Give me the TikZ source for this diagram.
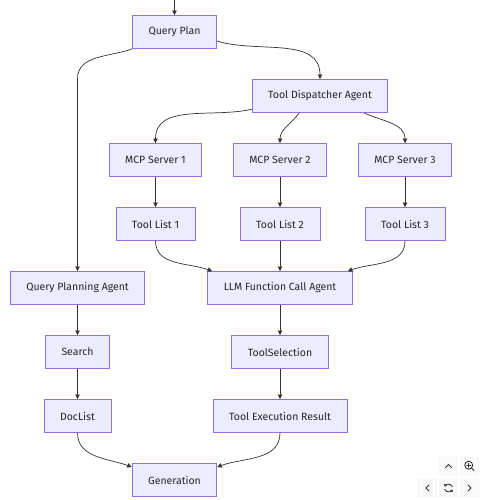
\documentclass[tikz,border=0pt]{standalone}
\usepackage{fontspec}
\setmainfont{Fira Sans}
\usetikzlibrary{arrows.meta,positioning}
\definecolor{boxfill}{HTML}{ECECFF}
\definecolor{boxline}{HTML}{9370DB}
\definecolor{edgeline}{HTML}{333333}

\begin{document}
\begin{tikzpicture}[x=1pt,y=-1pt,
    node distance=30.2pt and 30pt,
    every node/.style={font=\fontsize{10.5}{12}\selectfont},
    box/.style={rectangle,draw=boxline,fill=boxfill,line width=0.8pt,minimum height=33pt,inner xsep=16pt,text=black!85},
    arrow/.style={-{Triangle[length=4.5pt,width=4.5pt]},line width=0.7pt,color=edgeline},
    btn/.style={rectangle,rounded corners=2pt,draw=gray!12,fill=gray!5,minimum width=19pt,minimum height=18pt,inner sep=0pt},
    glyph/.style={line width=0.9pt,black!80,line cap=round,line join=round}
]
\useasboundingbox (0,0) rectangle (486,500);

% Planning
\coordinate (start) at (174.5,0);
\node[box] (qplan) at (174.5,32) {Query Plan};
\node[box] (dispatch) at (320,96) {Tool Dispatcher Agent};

% MCP servers and their tool lists
\foreach \i/\x in {1/155.5,2/280,3/405} {
  \node[box] (mcp\i) at (\x,160) {MCP Server \i};
  \node[box,below=of mcp\i] (tools\i) {Tool List \i};
}

% Function calling branch
\node[box,below=of tools2] (llm) {LLM Function Call Agent};
\node[box,below=of llm] (toolsel) {ToolSelection};
\node[box,below=of toolsel] (toolexec) {Tool Execution Result};

% Retrieval branch
\node[box] (qpagent) at (77.5,288) {Query Planning Agent};
\node[box,below=of qpagent] (search) {Search};
\node[box,below=of search] (doclist) {DocList};

% Output
\node[box] (gen) at (174.5,480) {Generation};

% Connections
\draw[arrow] (start) -- (qplan);
\draw[arrow] (qplan.south west) to[out=200,in=90] (qpagent.north |- dispatch.north) -- (qpagent.north);
\draw[arrow] (qplan.-12) to[out=-17,in=90] (dispatch.north);
\draw[arrow] (dispatch.191) to[out=193,in=90] (mcp1.north);
\draw[arrow] (dispatch.219) to[out=235,in=90] (mcp2.north);
\draw[arrow] (dispatch.-21) to[out=-25,in=90] (mcp3.north);
\foreach \i in {1,2,3} {
  \draw[arrow] (mcp\i) -- (tools\i);
}
\draw[arrow] (tools1.south) to[out=-90,in=160] (llm.166);
\draw[arrow] (tools2) -- (llm);
\draw[arrow] (tools3.south) to[out=-90,in=20] (llm.14);
\draw[arrow] (llm) -- (toolsel);
\draw[arrow] (toolsel) -- (toolexec);
\draw[arrow] (qpagent) -- (search);
\draw[arrow] (search) -- (doclist);
\draw[arrow] (doclist.south) to[out=-90,in=160] (gen.163);
\draw[arrow] (toolexec.south) to[out=-90,in=20] (gen.17);

% Viewer buttons
\node[btn] (up) at (448.5,466) {};
\node[btn] (zoomin) at (469.5,466) {};
\node[btn] (left) at (427.5,488) {};
\node[btn] (reset) at (448.5,488) {};
\node[btn] (right) at (469.5,488) {};
\draw[glyph] ([xshift=-3pt,yshift=-1.5pt]up.center) -- ([yshift=1.5pt]up.center) -- ([xshift=3pt,yshift=-1.5pt]up.center);
\draw[glyph] ([xshift=1.5pt,yshift=-3pt]left.center) -- ([xshift=-1.5pt]left.center) -- ([xshift=1.5pt,yshift=3pt]left.center);
\draw[glyph] ([xshift=-1.5pt,yshift=-3pt]right.center) -- ([xshift=1.5pt]right.center) -- ([xshift=-1.5pt,yshift=3pt]right.center);
\draw[glyph] ([xshift=-0.8pt,yshift=0.8pt]zoomin.center) circle[radius=4pt];
\draw[glyph] ([xshift=2pt,yshift=-2pt]zoomin.center) -- ([xshift=4.5pt,yshift=-4.5pt]zoomin.center);
\draw[glyph,line width=0.7pt] ([xshift=-2.8pt,yshift=0.8pt]zoomin.center) -- ([xshift=1.2pt,yshift=0.8pt]zoomin.center)
  ([xshift=-0.8pt,yshift=2.8pt]zoomin.center) -- ([xshift=-0.8pt,yshift=-1.2pt]zoomin.center);
\draw[glyph,-{Triangle[length=2pt,width=3pt]}] (reset.center) ++(20:4pt) arc[start angle=20,end angle=160,radius=4pt];
\draw[glyph,-{Triangle[length=2pt,width=3pt]}] (reset.center) ++(200:4pt) arc[start angle=200,end angle=340,radius=4pt];

\end{tikzpicture}
\end{document}
